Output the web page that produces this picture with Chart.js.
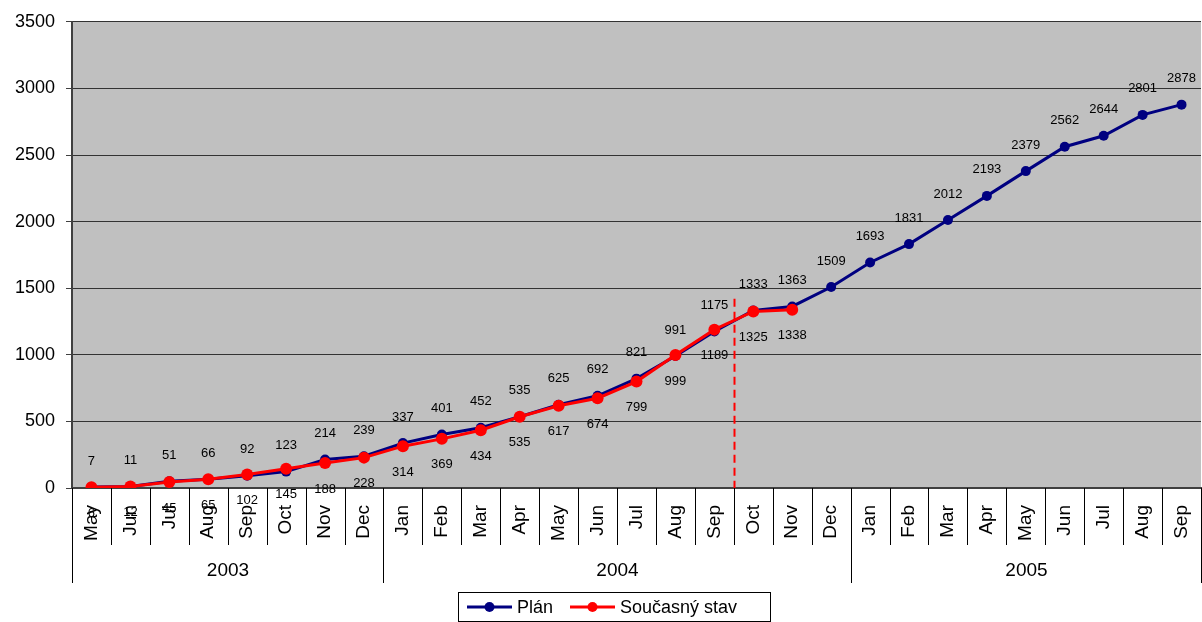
<!DOCTYPE html>
<html>
<head>
<meta charset="utf-8">
<script src="https://cdn.jsdelivr.net/npm/chart.js@4"></script>
<style>
  html, body { margin: 0; padding: 0; background: #fff; overflow: hidden; }
  #wrap { width: 1202px; height: 622px; }
</style>
</head>
<body>
<div id="wrap"><canvas id="planChart"></canvas></div>
<script>
// Data
const months = ['May', 'Jun', 'Jul', 'Aug', 'Sep', 'Oct', 'Nov', 'Dec',
  'Jan', 'Feb', 'Mar', 'Apr', 'May', 'Jun', 'Jul', 'Aug', 'Sep', 'Oct', 'Nov', 'Dec',
  'Jan', 'Feb', 'Mar', 'Apr', 'May', 'Jun', 'Jul', 'Aug', 'Sep'];
const years = ['2003', '2004', '2005'];
const yearSpans = [8, 12, 9];
const planValues = [7, 11, 51, 66, 92, 123, 214, 239, 337, 401, 452, 535, 625, 692, 821, 991,
  1175, 1333, 1363, 1509, 1693, 1831, 2012, 2193, 2379, 2562, 2644, 2801, 2878];
const actualValues = [6, 12, 45, 65, 102, 145, 188, 228, 314, 369, 434, 535, 617, 674, 799, 999,
  1189, 1325, 1338, null, null, null, null, null, null, null, null, null, null];
const seriesNames = ['Plán', 'Současný stav'];
const yMin = 0, yMax = 3500, yStep = 500;
const cutoffIndex = 16;   // dashed line after Sep 2004
const cutoffValue = 1420;

const FONT = "Arial, 'Liberation Sans', sans-serif";
const BLUE = '#000080';
const RED = '#ff0000';

const decoPlugin = {
  id: 'deco',
  beforeDraw(chart) {
    const a = chart.chartArea;
    const ctx = chart.ctx;
    ctx.save();
    ctx.fillStyle = '#c0c0c0';
    ctx.fillRect(a.left, a.top, a.right - a.left, a.bottom - a.top);
    ctx.restore();
  },
  beforeDatasetsDraw(chart) {
    // dashed cut-off line
    const ctx = chart.ctx;
    const x = chart.scales.x;
    const y = chart.scales.y;
    const half = (x.getPixelForValue(1) - x.getPixelForValue(0)) / 2;
    const px = Math.round(x.getPixelForValue(cutoffIndex) + half) + 0.5;
    ctx.save();
    ctx.strokeStyle = RED;
    ctx.lineWidth = 2;
    ctx.setLineDash([8, 5]);
    ctx.beginPath();
    ctx.moveTo(px, y.getPixelForValue(cutoffValue));
    ctx.lineTo(px, y.getPixelForValue(0));
    ctx.stroke();
    ctx.restore();
  },
  afterDatasetsDraw(chart) {
    const ctx = chart.ctx;
    ctx.save();
    ctx.font = '13px ' + FONT;
    ctx.fillStyle = '#000';
    ctx.textAlign = 'center';
    ctx.textBaseline = 'middle';
    chart.data.datasets.forEach(function(ds, di) {
      const meta = chart.getDatasetMeta(di);
      meta.data.forEach(function(pt, i) {
        const v = ds.data[i];
        if (v === null || v === undefined) return;
        const off = di === 0 ? -26 : 26;
        ctx.fillText(String(v), pt.x, pt.y + off);
      });
    });
    ctx.restore();
  },
  afterDraw(chart) {
    const ctx = chart.ctx;
    const x = chart.scales.x;
    const bottom = chart.chartArea.bottom;
    const step = x.getPixelForValue(1) - x.getPixelForValue(0);
    const edge = function(i) { return Math.round(x.getPixelForValue(i) - step / 2) + 0.5; };
    ctx.save();
    ctx.strokeStyle = '#000';
    ctx.lineWidth = 1;
    // month separators
    for (let i = 0; i <= months.length; i++) {
      const px = edge(i);
      ctx.beginPath();
      ctx.moveTo(px, bottom);
      ctx.lineTo(px, bottom + 57);
      ctx.stroke();
    }
    // year separators and labels
    let start = 0;
    ctx.font = '19px ' + FONT;
    ctx.fillStyle = '#000';
    ctx.textAlign = 'center';
    ctx.textBaseline = 'middle';
    for (let g = 0; g <= years.length; g++) {
      const px = edge(start);
      ctx.beginPath();
      ctx.moveTo(px, bottom);
      ctx.lineTo(px, bottom + 95);
      ctx.stroke();
      if (g < years.length) {
        const end = start + yearSpans[g];
        ctx.fillText(years[g], (edge(start) + edge(end)) / 2, bottom + 83);
        start = end;
      }
    }
    // legend
    const lx = 458.5, ly = 592.5, lw = 312, lh = 29;
    ctx.strokeRect(lx, ly, lw, lh);
    ctx.font = '18px ' + FONT;
    ctx.textAlign = 'left';
    const items = [
      { x: 467, color: BLUE, text: seriesNames[0] },
      { x: 570, color: RED, text: seriesNames[1] }
    ];
    const my = ly + lh / 2;
    items.forEach(function(it) {
      ctx.strokeStyle = it.color;
      ctx.lineWidth = 3;
      ctx.beginPath();
      ctx.moveTo(it.x, my);
      ctx.lineTo(it.x + 45, my);
      ctx.stroke();
      ctx.fillStyle = it.color;
      ctx.beginPath();
      ctx.arc(it.x + 22.5, my, 5, 0, Math.PI * 2);
      ctx.fill();
      ctx.fillStyle = '#000';
      ctx.fillText(it.text, it.x + 50, my + 1);
    });
    ctx.restore();
  }
};

const ctx = document.getElementById('planChart').getContext('2d');
new Chart(ctx, {
  type: 'line',
  data: {
    labels: months,
    datasets: [{
      label: seriesNames[0],
      data: planValues,
      borderColor: BLUE,
      backgroundColor: BLUE,
      borderWidth: 3,
      pointRadius: 5,
      pointBorderWidth: 0,
      tension: 0,
      order: 1
    }, {
      label: seriesNames[1],
      data: actualValues,
      borderColor: RED,
      backgroundColor: RED,
      borderWidth: 3,
      pointRadius: 6,
      pointBorderWidth: 0,
      tension: 0,
      spanGaps: false,
      order: 0
    }]
  },
  options: {
    responsive: true,
    maintainAspectRatio: false,
    animation: false,
    layout: {
      autoPadding: false,
      padding: { top: 20, right: 1, left: 0, bottom: 0 }
    },
    scales: {
      x: {
        offset: true,
        grid: { display: false },
        border: { display: true, color: '#404040', width: 2 },
        ticks: {
          color: '#000',
          minRotation: 90,
          maxRotation: 90,
          autoSkip: false,
          padding: 9,
          font: { family: FONT, size: 19 }
        },
        afterFit: function(scale) {
          scale.height = 134;
          scale.paddingLeft = 0;
          scale.paddingRight = 0;
        }
      },
      y: {
        min: yMin,
        max: yMax,
        ticks: {
          stepSize: yStep,
          color: '#000',
          padding: 11,
          font: { family: FONT, size: 18 },
          callback: function(v) { return String(v); }
        },
        grid: {
          color: '#333',
          lineWidth: 1,
          tickLength: 6,
          tickColor: '#404040'
        },
        border: { display: true, color: '#404040', width: 2 },
        afterFit: function(scale) { scale.width = 72; }
      }
    },
    plugins: {
      legend: { display: false },
      tooltip: { enabled: false }
    }
  },
  plugins: [decoPlugin]
});
</script>
</body>
</html>
